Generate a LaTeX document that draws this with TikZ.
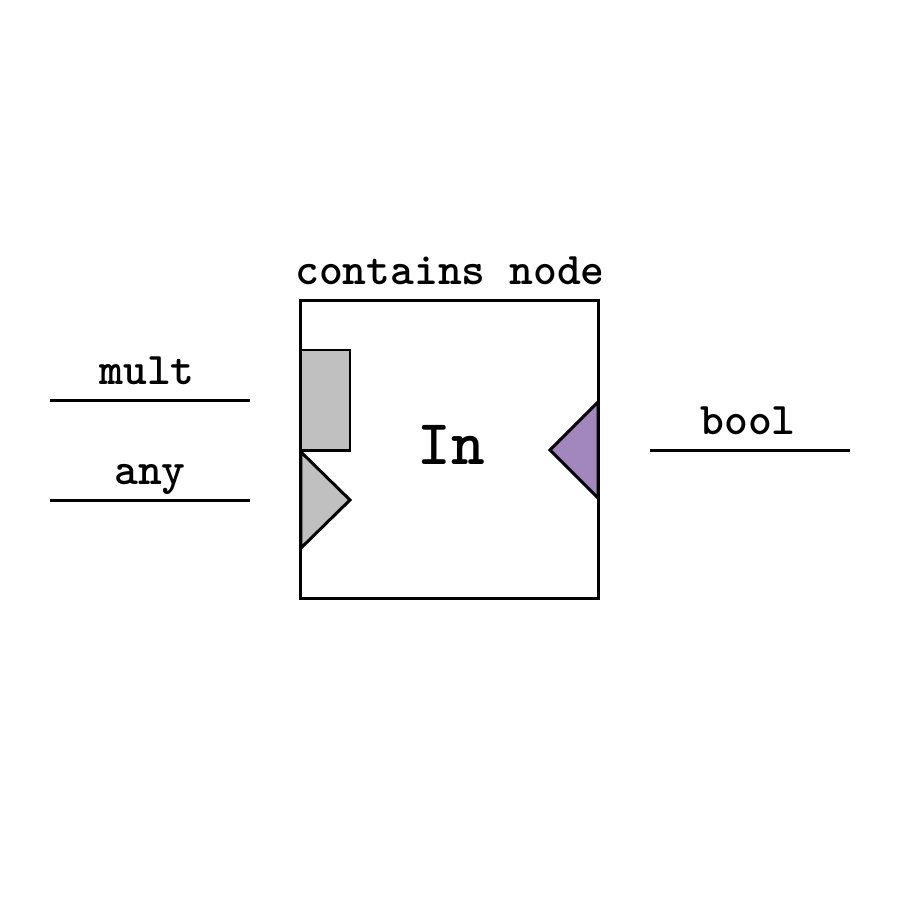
\documentclass[tikz,border=0pt]{standalone}
\usetikzlibrary{positioning}
\definecolor{portgray}{HTML}{C0C0C0}
\definecolor{portpurple}{HTML}{A187BE}

\begin{document}
\begin{tikzpicture}[x=0.01cm, y=-0.01cm, line width=0.85pt,
    lbl/.style={anchor=base, inner sep=0, font=\ttfamily\bfseries\fontsize{12.9}{15}\selectfont},
    port/.style={draw, line join=miter}]
    \useasboundingbox (0,0) rectangle (900,900);

    \node[draw, minimum width=2.97cm, minimum height=2.97cm, inner sep=0] (block) at (449.5,449.5) {};
    \node[lbl] (title) at (450,284) {contains node};
    \node[anchor=base, inner sep=0, font=\ttfamily\bfseries\fontsize{18.2}{20}\selectfont] (name) at (451,464) {In};

    % ports
    \draw[port, fill=portgray] (301,350) rectangle (350,450);
    \draw[port, fill=portgray] (301,452) -- (350,500) -- (301,548) -- cycle;
    \draw[port, fill=portpurple] (598,402) -- (550,450) -- (598,498) -- cycle;

    % inputs and output
    \node[lbl] (mult) at (147,384) {mult};
    \node[lbl] (any) at (150,484) {any};
    \node[lbl] (bool) at (748,434) {bool};
    \coordinate (multA) at (50,400);
    \coordinate (multB) at (250,400);
    \coordinate (anyA) at (50,500);
    \coordinate (anyB) at (250,500);
    \coordinate (boolA) at (650,450);
    \coordinate (boolB) at (850,450);
    \draw (multA) -- (multB);
    \draw (anyA) -- (anyB);
    \draw (boolA) -- (boolB);
\end{tikzpicture}
\end{document}
